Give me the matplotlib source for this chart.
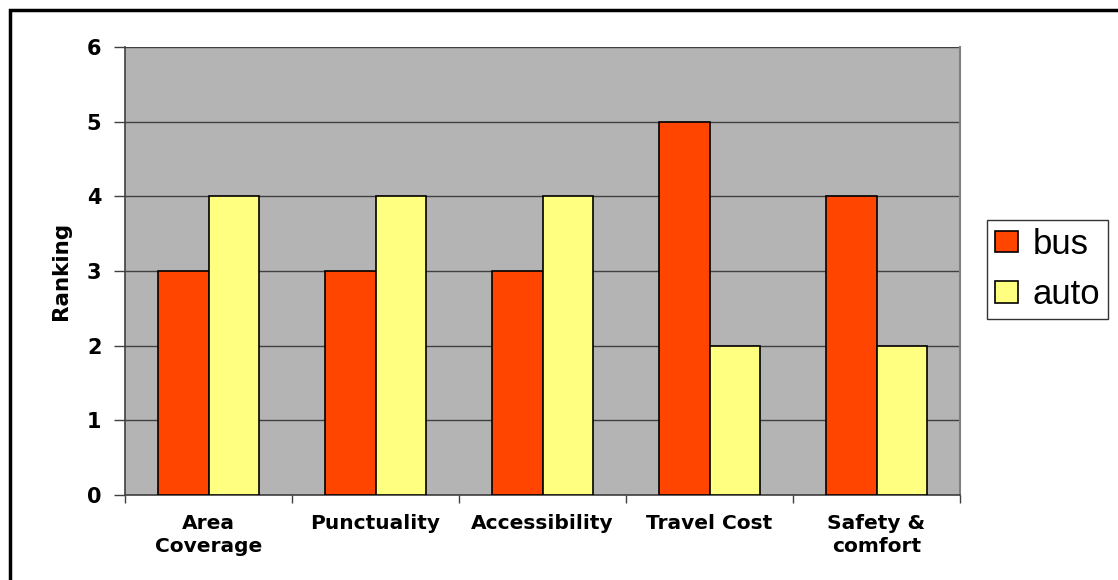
import matplotlib
matplotlib.use("Agg")
import matplotlib.pyplot as plt
import matplotlib.patches as mpatches
import numpy as np

# data
categories = ["Area\nCoverage", "Punctuality", "Accessibility", "Travel Cost", "Safety &\ncomfort"]
bus = [3, 3, 3, 5, 4]
auto = [4, 4, 4, 2, 2]

fig = plt.figure(figsize=(11.18, 5.8), dpi=100)
ax = fig.add_axes([125 / 1118, 1 - 495 / 580, (960 - 125) / 1118, (495 - 47) / 580])

x = np.arange(len(categories))
w = 0.3
ax.bar(x - w / 2, bus, w, color="#FF4500", edgecolor="black", linewidth=1.2, label="bus", zorder=3)
ax.bar(x + w / 2, auto, w, color="#FFFF80", edgecolor="black", linewidth=1.2, label="auto", zorder=3)

ax.set_facecolor("#B4B4B4")
ax.set_xlim(-0.5, len(categories) - 0.5)
ax.set_ylim(0, 6)
ax.set_yticks(range(7))
ax.yaxis.grid(True, color="#404040", linewidth=1.0, zorder=1)
ax.set_axisbelow(True)

# category labels sit between the boundary ticks
ax.set_xticks(np.arange(len(categories) + 1) - 0.5)
ax.set_xticklabels([])
ax.set_xticks(x, minor=True)
ax.set_xticklabels(categories, minor=True, fontsize=14.5, fontweight="bold", linespacing=1.25)
ax.tick_params(axis="x", which="minor", length=0, pad=14)
ax.tick_params(axis="x", which="major", length=6, width=1, color="#404040")
ax.tick_params(axis="y", length=8, width=1, color="#404040", pad=9)
for lbl in ax.get_yticklabels():
    lbl.set_fontsize(15)
    lbl.set_fontweight("bold")

for s in ["left", "bottom"]:
    ax.spines[s].set_color("#404040")
    ax.spines[s].set_linewidth(1.2)
ax.spines["right"].set_color("#808080")
ax.spines["right"].set_linewidth(1.5)
ax.spines["top"].set_visible(False)

ax.set_ylabel("Ranking", fontsize=15.5, fontweight="bold", labelpad=11)

leg = fig.legend(loc="upper left", bbox_to_anchor=(987 / 1118, 1 - 220 / 580),
                 prop={"family": "Liberation Sans", "size": 25},
                 frameon=True, fancybox=False, edgecolor="black",
                 handlelength=0.66, handleheight=0.58, handletextpad=0.43,
                 labelspacing=0.5, borderpad=0.22, borderaxespad=0)
leg.get_frame().set_linewidth(1.0)

# outer chart frame, running off the right and bottom edges
fig.patches.append(mpatches.Rectangle((10 / 1118, -0.05), 1.2, 1 - 10 / 580 + 0.05,
                                      transform=fig.transFigure, fill=False,
                                      edgecolor="black", linewidth=2.5))

fig.savefig("out.png", dpi=100)
